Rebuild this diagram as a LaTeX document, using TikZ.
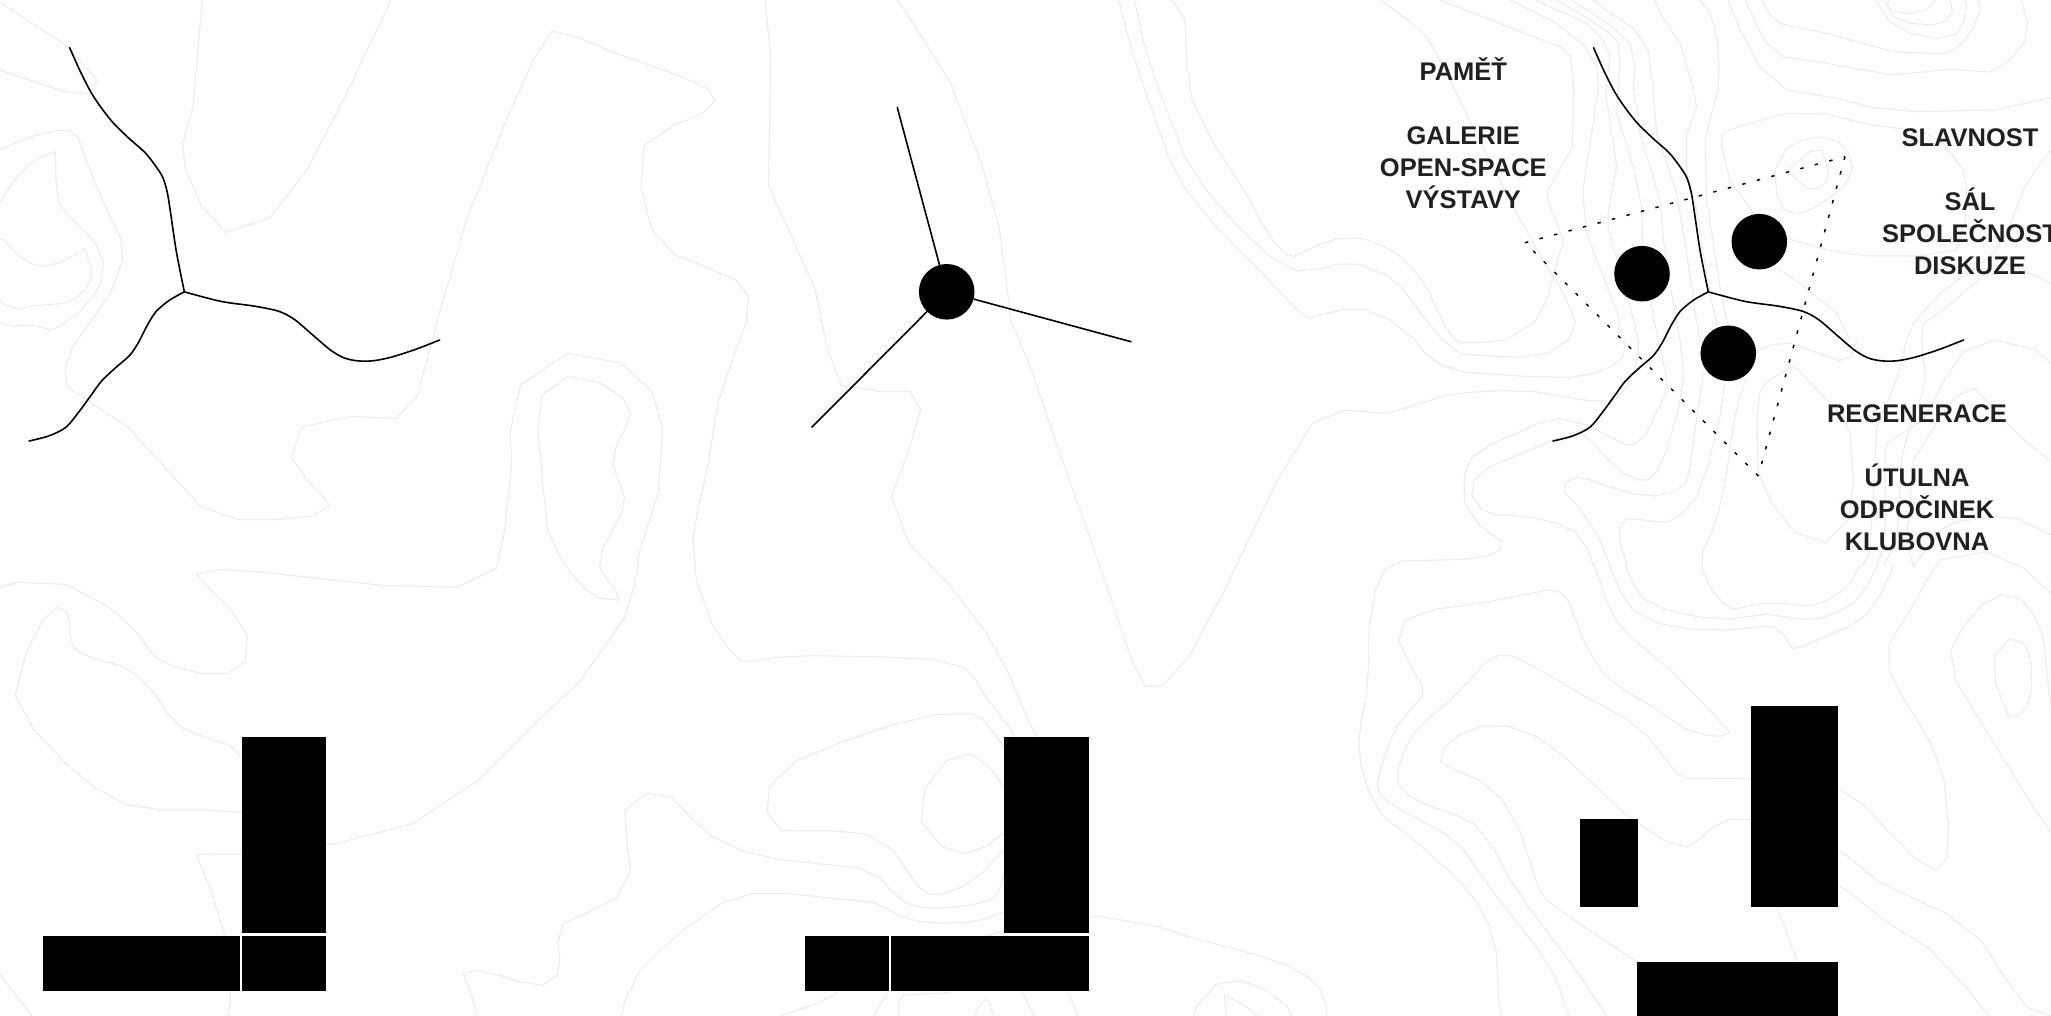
\documentclass[tikz,border=0pt]{standalone}
\usepackage{fontspec}
\setmainfont{Liberation Sans}
\normallineskiplimit=-30pt
\lineskiplimit=-30pt
\definecolor{contourgray}{HTML}{EBEBEB}
\definecolor{labelink}{HTML}{231F20}
\tikzset{
  contour/.style={draw=contourgray,line width=0.5pt,line join=miter},
  massing/.style={fill=black,draw=none},
  road/.style={draw=black,line width=0.8pt,line cap=round,line join=round},
  hubdot/.style={circle,fill=black,draw=none,minimum size=27.8pt,inner sep=0pt},
  zoneline/.style={draw=black,line width=0.75pt,dash pattern=on 1.7pt off 5.8pt},
  zonelabel/.style={anchor=north,align=center,inner sep=0pt,text=labelink,font=\fontsize{12.75}{16}\selectfont\bfseries},
}
\newcommand{\cl}[1]{\draw[contour] plot[sharp plot] coordinates {#1};}
\newcommand{\forkcurves}{%
  \coordinate (fj) at (413,673);
  \draw[road] plot[smooth,tension=0.5] coordinates {(156,110)(180,165)(205,215)(230,253)(255,285)(290,320)(325,352)(350,385)(365,410)(375,445)(382,490)(395,580)(fj)};
  \draw[road] plot[smooth,tension=0.5] coordinates {(fj)(495,695)(570,706)(625,718)(660,737)(700,772)(740,807)(770,825)(800,832)(835,832)(875,824)(930,806)(985,784)};
  \draw[road] plot[smooth,tension=0.5] coordinates {(fj)(380,692)(350,718)(330,750)(310,790)(290,820)(260,847)(228,878)(205,910)(178,948)(148,985)(110,1005)(65,1017)};
}
\begin{document}
\begin{tikzpicture}[x=0.5pt,y=-0.5pt]
\useasboundingbox (0,0) rectangle (2051,1016);
\fill[white] (0,0) rectangle (2051,1016);

% ---- contours, column 1 top
\begin{scope}
\clip (0,0) rectangle (700,565);
\begin{scope}[xscale=0.44643,yscale=0.43365]
\cl{(0,5)(155,110)(217,185)(200,215)(180,215)(140,210)(0,162)}
\cl{(453,0)(432,250)(409,330)(415,390)(450,472)(505,536)(604,503)(690,388)(782,203)(876,0)}
\cl{(1568,195)(1510,170)(1385,125)(1292,85)(1236,72)(1195,137)(1135,275)(1047,500)(985,720)(935,913)(888,965)(785,960)(677,984)(652,1055)(690,1108)(739,1165)(700,1190)(620,1198)(532,1198)(450,1168)(380,1090)(288,986)(150,892)(146,845)(165,797)(190,760)(245,680)(262,640)(275,595)(270,552)(212,420)(175,318)(155,301)(125,301)(70,315)(0,345)}
\cl{(0,465)(30,420)(60,383)(95,360)(124,350)(125,410)(131,465)(152,495)(180,525)(213,560)(232,607)(226,650)(208,685)(175,722)(130,755)(113,760)(75,750)(30,752)(0,745)}
\cl{(0,552)(8,553)(45,593)(75,610)(102,614)(135,605)(165,590)(189,573)(205,615)(206,640)(193,665)(170,688)(140,700)(75,705)(42,713)(10,703)(0,692)}
\cl{(1568,265)(1510,288)(1443,335)(1436,432)(1459,528)(1510,587)(1568,610)}
\cl{(1300,1568)(1397,1430)(1422,1345)(1432,1275)(1475,1135)(1484,985)(1460,902)(1390,837)(1270,815)(1166,888)(1143,995)(1146,1070)(1130,1225)(1113,1310)}
\cl{(1271,868)(1345,883)(1397,920)(1413,953)(1398,993)(1380,1030)(1373,1070)(1385,1107)(1399,1147)(1394,1180)(1350,1265)(1343,1305)(1360,1337)(1377,1358)(1388,1384)(1344,1380)(1313,1360)(1285,1330)(1254,1285)(1227,1220)(1216,1120)(1205,990)(1214,912)(1271,868)}
\cl{(1568,1150)(1552,1240)(1560,1335)(1568,1365)}
\end{scope}
\end{scope}

% ---- contours, column 1 bottom
\begin{scope}
\clip (0,565) rectangle (700,1016);
\begin{scope}[shift={(0,560)},xscale=0.44643,yscale=0.33333]
\cl{(1115,0)(1113,25)(1023,82)(855,76)(575,35)(493,29)(440,41)(468,85)(517,148)(554,228)(549,305)(510,340)(448,340)(388,318)(352,295)(332,265)(308,220)(251,147)(148,73)(38,67)(0,83)}
\cl{(600,650)(540,592)(516,557)(456,530)(407,503)(375,460)(349,407)(313,352)(273,318)(213,296)(182,280)(163,258)(157,222)(156,185)(148,153)(126,142)(96,180)(58,280)(34,407)(76,510)(155,620)(210,680)(284,735)(365,750)(460,750)(540,757)(600,765)}
\cl{(700,860)(762,848)(926,790)(1070,662)(1200,488)(1297,368)(1398,175)(1423,68)(1430,0)}
\cl{(560,884)(455,882)(440,887)(475,1000)(503,1125)}
\cl{(516,1295)(516,1330)(510,1368)}
\cl{(0,1243)(55,1340)(72,1368)}
\cl{(1568,800)(1545,770)(1504,712)(1448,700)(1400,751)(1405,850)(1412,935)(1380,1015)(1320,1055)(1262,1090)(1250,1145)(1254,1200)(1248,1247)(1215,1276)(1162,1265)(1115,1245)(1070,1231)(1038,1240)(1053,1295)(1070,1368)}
\cl{(1568,1075)(1537,1103)(1478,1172)(1431,1235)(1400,1320)(1392,1368)}
\cl{(1555,0)(1560,60)(1568,95)}
\cl{(1345,0)(1343,20)(1360,60)(1377,85)(1388,120)(1344,115)(1313,90)(1285,50)(1258,0)}
\end{scope}
\end{scope}

% ---- contours, column 2 top
\begin{scope}
\clip (700,0) rectangle (1370,565);
\begin{scope}[shift={(700,0)},xscale=0.43365,yscale=0.43365]
\cl{(150,0)(163,130)(158,428)(265,665)(292,797)(325,888)(415,903)(485,903)(509,945)(483,1033)(442,1145)(482,1253)(575,1347)(663,1462)(717,1568)}
\cl{(455,0)(470,20)(577,190)(650,380)(690,525)(718,742)(765,855)(830,1045)(1000,1530)(1020,1568)}
\cl{(-30,190)(0,197)(18,205)(35,233)(5,262)(-30,270)}
\cl{(-10,605)(0,610)(82,645)(112,685)(107,743)(73,835)(43,927)(17,1075)(0,1160)(-10,1200)}
\cl{(965,0)(997,120)(1030,220)(1082,365)(1122,440)(1188,520)(1385,722)(1405,733)(1480,714)(1537,714)(1568,724)}
\cl{(1002,0)(1020,85)(1048,180)(1115,355)(1163,433)(1235,517)(1312,590)(1376,625)(1430,620)(1470,609)(1517,609)(1568,628)}
\cl{(1088,0)(1118,45)(1122,140)(1135,232)(1180,323)(1252,435)(1295,513)(1325,560)(1350,585)(1368,592)(1425,565)(1468,551)(1525,549)(1568,563)}
\cl{(1568,952)(1486,946)(1412,976)(1330,1110)(1215,1350)(1125,1518)(1075,1568)}
\cl{(0,1360)(27,1438)(65,1497)(95,1524)(130,1523)(172,1515)(260,1511)}
\cl{(1568,1330)(1555,1365)(1542,1450)(1542,1568)}
\end{scope}
\end{scope}

% ---- contours, column 2 bottom
\begin{scope}
\clip (700,565) rectangle (1370,1016);
\begin{scope}[shift={(700,560)},xscale=0.43365,yscale=0.33333]
\cl{(918,0)(998,310)(1027,380)(1067,376)(1126,293)(1212,85)(1242,0)}
\cl{(518,0)(575,75)(663,222)(713,345)(743,440)(775,528)(790,570)}
\cl{(0,90)(27,190)(65,265)(95,303)(130,303)(172,292)(260,287)(420,291)(537,298)(610,323)(636,358)(653,400)(715,505)(725,530)(735,560)}
\cl{(720,600)(680,522)(652,478)(626,461)(545,464)(455,490)(340,540)(222,602)(160,680)(155,757)(188,812)(310,813)(383,822)(443,868)(505,982)(530,1003)(562,1002)(610,977)(657,932)(720,840)}
\cl{(720,720)(673,628)(625,580)(568,602)(518,687)(510,785)(558,860)(610,881)(658,860)(720,800)}
\cl{(0,797)(30,832)(103,875)(185,899)(362,923)(412,950)(443,995)(473,1028)(513,1043)(560,1044)(620,1036)(660,1025)(678,1015)(690,990)(710,900)}
\cl{(0,1075)(50,1030)(123,1000)(193,1000)(398,1027)(430,1045)(465,1070)(503,1084)(555,1090)(610,1087)(655,1078)(720,1045)}
\cl{(880,1075)(918,1068)(1050,1098)(1140,1135)(1290,1187)(1355,1217)(1402,1252)(1430,1288)(1443,1335)(1446,1368)}
\cl{(660,1130)(700,1113)(720,1113)}
\cl{(185,1368)(270,1330)(318,1298)}
\cl{(400,1368)(433,1298)}
\cl{(460,1368)(456,1330)(470,1305)(575,1298)}
\cl{(635,1368)(645,1335)(658,1320)(665,1322)(678,1368)}
\cl{(745,1298)(770,1368)}
\cl{(850,1298)(872,1368)}
\cl{(1138,1368)(1142,1345)(1190,1273)(1248,1262)(1307,1290)(1354,1340)(1365,1368)}
\cl{(1213,1368)(1209,1304)(1260,1340)(1285,1368)}
\cl{(1568,60)(1555,95)(1543,200)(1542,310)(1537,405)(1525,480)(1519,545)(1524,615)(1542,695)(1568,760)}
\cl{(1568,630)(1561,672)(1568,697)}
\end{scope}
\end{scope}

% ---- contours, column 3 upper band
\begin{scope}
\clip (1370,0) rectangle (2051,340);
\begin{scope}[shift={(1370,0)},scale=0.33333]
\cl{(0,725)(40,738)(85,765)(140,820)(180,880)(225,980)(255,1020)}
\cl{(0,808)(50,825)(100,870)(160,950)(218,1020)}
\cl{(0,935)(60,960)(135,1020)}
\cl{(210,0)(440,90)(570,140)(602,170)(610,260)(607,440)(533,573)(533,600)(580,720)(530,900)(495,965)(440,1000)(410,1020)}
\cl{(30,0)(115,60)(170,110)(215,190)(290,345)(440,640)(480,710)(530,800)(575,870)(617,965)(595,1020)}
\cl{(420,0)(560,70)(640,135)(680,200)(685,260)(665,400)(640,560)(640,600)(650,700)(700,830)(745,950)(755,1020)}
\cl{(495,0)(650,70)(700,120)(720,170)(707,280)(740,500)(714,640)(715,690)(770,880)(805,1020)}
\cl{(560,0)(660,60)(720,100)(745,130)(750,190)(740,340)(790,500)(815,620)(820,760)(840,900)(865,1020)}
\cl{(605,0)(720,75)(780,130)(795,200)(790,260)(810,400)(870,600)(880,720)(905,880)(930,1020)}
\cl{(670,0)(700,25)(790,85)(835,150)(850,280)(860,400)(920,580)(950,760)(985,1000)(1000,1120)}
\cl{(855,0)(870,40)(930,130)(965,250)(980,320)(950,400)(950,520)(975,600)(1000,760)(1020,880)(1045,1000)(1065,1145)}
\end{scope}
\begin{scope}[shift={(1710,0)},scale=0.33333]
\cl{(-30,0)(0,40)(20,110)(27,190)(25,265)(0,360)(-15,420)(-10,600)(30,860)(50,960)(60,1020)}
\cl{(55,0)(90,90)(150,200)(230,270)(380,295)(490,323)(620,335)(855,330)(1023,293)}
\cl{(105,0)(165,125)(220,170)(350,190)(545,225)(720,208)(840,216)(895,185)(945,125)(952,70)(935,0)}
\cl{(155,0)(185,50)(215,72)(350,100)(550,155)(710,162)(755,130)(790,85)(810,30)(805,0)}
\cl{(495,0)(540,65)(600,100)(680,115)(735,105)(760,70)(770,20)(765,0)}
\cl{(520,0)(545,32)(590,42)(650,30)(675,0)}
\cl{(720,0)(727,35)(705,65)(665,75)(600,70)(550,50)(532,20)(535,0)}
\cl{(35,410)(45,395)(100,375)(230,340)(350,342)(470,372)(640,395)(700,430)(760,510)(770,570)(765,660)(740,750)(620,768)(470,768)(360,752)(230,715)(145,660)(60,540)(35,440)(35,410)}
\cl{(195,510)(230,445)(275,420)(335,410)(385,425)(415,455)(427,505)(405,555)(365,590)(310,625)(265,642)(220,627)(200,580)(195,510)}
\cl{(235,510)(300,455)(335,450)(355,510)(350,545)(325,565)(295,565)(260,540)(235,510)}
\cl{(195,800)(270,850)(380,940)(420,1020)}
\cl{(1023,450)(990,490)(945,560)(905,660)(880,720)(840,770)(690,880)(610,970)(590,1020)}
\cl{(635,1020)(640,970)(700,930)(840,810)(880,790)(940,810)(1023,850)}
\end{scope}
\end{scope}

% ---- contours, column 3 middle band
\begin{scope}
\clip (1370,340) rectangle (2051,565);
\begin{scope}[shift={(1370,340)},scale=0.33333]
\cl{(255,0)(280,8)(330,8)(410,0)}
\cl{(218,0)(275,43)(450,52)(535,40)(595,0)}
\cl{(135,0)(160,35)(210,73)(285,97)(480,110)(600,112)(670,102)(730,75)(760,50)(765,10)(755,0)}
\cl{(805,0)(805,50)(770,143)(730,183)(660,183)(495,155)(400,152)(300,157)(225,167)(52,220)(0,217)}
\cl{(865,0)(885,90)(893,140)(878,180)(830,280)(793,313)(765,313)(690,275)(650,255)(565,235)(505,250)(355,318)(305,353)(283,405)(283,487)(330,557)(395,605)(390,630)(352,648)(280,658)(95,663)(45,686)(15,755)(0,850)}
\cl{(930,0)(942,105)(925,210)(890,330)(860,395)(835,420)(805,420)(755,395)(710,355)(670,310)(635,280)(610,278)(550,300)(355,383)(312,420)(305,465)(337,510)(380,525)(430,526)(500,535)(560,550)(617,577)(655,632)(705,775)(740,843)(790,895)(930,1020)}
\cl{(1000,100)(975,270)(958,395)(945,432)(915,452)(858,468)(790,462)(715,440)(660,420)(622,412)(588,425)(584,458)(630,505)(685,590)(750,750)(790,810)(865,850)(965,868)(1020,868)}
\cl{(1020,360)(980,470)(935,522)(893,545)(855,545)(795,537)(767,538)(748,560)(750,605)(785,725)(822,777)(890,810)(990,832)(1020,832)}
\cl{(1020,590)(998,635)(997,690)(1020,745)}
\end{scope}
\begin{scope}[shift={(1710,340)},scale=0.33333]
\cl{(45,125)(30,230)(0,350)}
\cl{(110,115)(85,180)(65,290)(50,400)(25,520)(0,590)}
\cl{(140,35)(180,15)(240,10)(388,62)(425,50)(440,0)}
\cl{(252,77)(170,125)(150,155)(140,250)(145,400)(185,490)(255,577)(347,607)(415,540)(430,430)(420,280)(400,230)(252,77)}
\cl{(590,0)(560,120)(500,265)(497,320)(480,640)(430,720)(385,760)(310,795)(155,790)(72,806)(30,790)(0,750)}
\cl{(635,0)(645,100)(640,150)(590,290)(575,360)(560,600)(500,720)(470,770)(385,820)(280,840)(165,823)(70,835)(0,833)}
\cl{(855,0)(760,35)(710,110)(640,240)(530,310)(525,330)(525,600)(460,820)(250,925)(215,875)(170,858)(55,870)(0,865)}
\cl{(855,0)(980,30)(1023,70)}
\cl{(1023,365)(960,315)(880,240)(795,145)(735,170)(660,280)(610,360)(605,430)(590,600)(610,680)(690,570)(740,545)(860,530)(920,535)(1023,585)}
\cl{(1023,760)(940,685)(830,635)(690,660)(630,780)(535,910)}
\end{scope}
\end{scope}

% ---- contours, column 3 lower band
\begin{scope}
\clip (1370,565) rectangle (2051,1016);
\begin{scope}[shift={(1370,560)},xscale=0.43431,yscale=0.33333]
\cl{(0,190)(12,95)(35,27)(75,3)(230,0)}
\cl{(828,518)(807,529)(772,525)(727,507)(640,432)(590,395)(542,347)(510,285)(487,230)(458,125)(440,97)(410,90)(265,127)(150,148)(80,180)(67,243)(95,320)(121,377)(121,407)(65,493)(42,555)(25,625)(17,670)(20,695)(35,720)(65,745)(172,820)(213,865)(280,990)(385,1165)(427,1250)(457,1368)}
\cl{(828,518)(800,475)(700,340)(600,230)(568,185)(543,120)(527,55)(512,0)}
\cl{(547,0)(575,92)(605,150)(663,190)(740,208)(830,210)(912,198)(932,204)(953,225)(973,266)(1000,257)(1105,198)(1143,165)(1173,108)(1200,35)(1208,0)}
\cl{(585,0)(603,67)(630,117)(680,148)(757,171)(826,177)(912,163)(1000,178)(1037,175)(1077,157)(1112,130)(1142,85)(1165,25)(1170,0)}
\cl{(765,0)(765,30)(788,93)(817,133)(838,147)(903,130)(955,130)(1000,137)(1022,135)(1052,120)(1082,98)(1108,65)(1135,0)}
\cl{(900,777)(826,779)(790,800)(760,838)(730,860)(678,842)(617,790)(585,760)(515,673)(443,585)(385,531)(322,500)(258,497)(207,523)(172,562)(162,604)(198,632)(250,660)(305,718)(347,818)(388,985)(405,1018)(435,1048)(640,1228)}
\cl{(900,660)(850,656)(728,655)(706,640)(640,530)(585,472)(500,413)(375,318)(330,288)(296,286)(265,307)(233,357)(180,428)(133,477)(103,517)(83,560)(65,620)(64,668)(87,705)(128,733)(198,765)(241,793)(280,857)(320,952)(365,1040)(480,1240)(545,1368)}
\cl{(0,700)(20,750)(38,778)(100,838)(200,955)(242,1020)(272,1087)(291,1177)(296,1310)(302,1368)}
\cl{(1315,0)(1288,45)(1255,125)(1195,252)(1195,333)(1235,430)(1290,545)(1322,665)(1332,800)(1328,898)(1302,930)(1255,895)(1190,810)(1137,735)(1083,690)(1060,675)}
\cl{(1060,848)(1172,965)(1330,1063)(1408,1143)(1465,1260)(1513,1342)(1568,1368)}
\cl{(1060,962)(1100,993)(1185,1082)(1285,1163)(1368,1275)(1425,1368)}
\cl{(1460,0)(1505,25)(1568,100)}
\cl{(1568,815)(1527,742)(1350,365)(1337,272)(1367,197)(1412,132)(1455,103)(1497,115)(1527,162)(1550,235)(1558,320)(1563,395)(1568,440)}
\cl{(1473,236)(1509,252)(1523,315)(1522,390)(1513,440)(1495,465)(1472,472)(1441,375)(1438,287)(1473,236)}
\cl{(930,1020)(985,1207)}
\cl{(1255,0)(1248,15)(1252,22)(1265,0)}
\end{scope}
\end{scope}

% ---- massing blocks
\fill[massing] (242,736.7) rectangle (326.3,933.3);
\fill[massing] (43.3,935.5) rectangle (240.2,991);
\fill[massing] (242,936) rectangle (326.3,991);
\fill[massing] (1004.4,736.7) rectangle (1088.5,933.3);
\fill[massing] (805.4,935.5) rectangle (889,991);
\fill[massing] (890.8,936) rectangle (1088.5,991);
\fill[massing] (1580.2,819.3) rectangle (1638.4,907);
\fill[massing] (1750.5,706) rectangle (1837.8,907);
\fill[massing] (1637.1,962.3) rectangle (1837.8,1016);

% ---- forked roads
\begin{scope}[xscale=0.44643,yscale=0.43365]
\forkcurves
\end{scope}
\begin{scope}[shift={(1523.9,0)},xscale=0.44643,yscale=0.43365]
\forkcurves
\end{scope}

% ---- hub diagram
\node[hubdot] (hub) at (946.7,291.8) {};
\coordinate (hubn) at (897.3,107.5);
\coordinate (hube) at (1131,341.7);
\coordinate (hubs) at (811.9,427.2);
\draw[road] (hubn) -- (hub);
\draw[road] (hube) -- (hub);
\draw[road] (hubs) -- (hub);

% ---- three-zone diagram
\node[hubdot] (zonea) at (1642,273.7) {};
\node[hubdot] (zoneb) at (1759.3,241.7) {};
\node[hubdot] (zonec) at (1728.3,353.3) {};
\coordinate (tria) at (1525,242.7);
\coordinate (trib) at (1845,156.7);
\coordinate (tric) at (1758.3,476);
\draw[zoneline] (tria) -- (trib);
\draw[zoneline] (trib) -- (tric);
\draw[zoneline] (tric) -- (tria);

% ---- labels
\node[zonelabel] (lblmem) at (1463.3,57.6) {\strut PAMĚŤ\\[16pt]GALERIE\\OPEN-SPACE\\VÝSTAVY};
\node[zonelabel] (lblfest) at (1970,123.3) {\strut SLAVNOST\\[16pt]SÁL\\SPOLEČNOST\\DISKUZE};
\node[zonelabel] (lblrest) at (1917,399.3) {\strut REGENERACE\\[16pt]ÚTULNA\\ODPOČINEK\\KLUBOVNA};
\end{tikzpicture}
\end{document}
